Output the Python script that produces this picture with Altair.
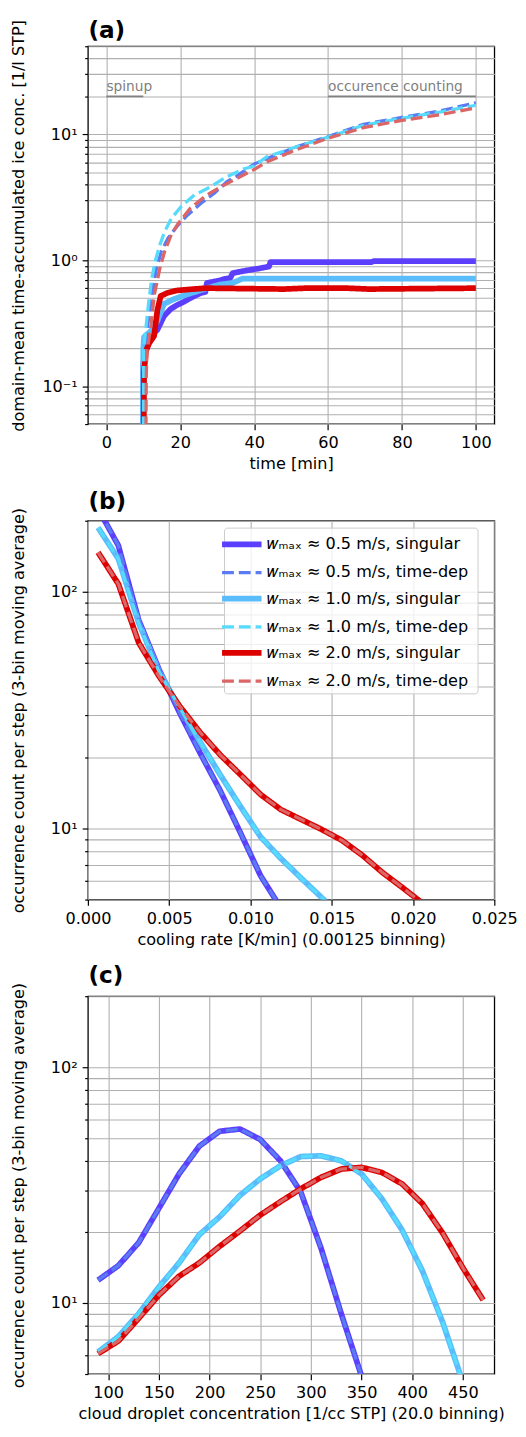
import altair as alt
import pandas as pd

FONT = "DejaVu Sans"

# ---------------- series definitions ----------------
SERIES = [
    "𝑤ₘₐₓ ≈  0.5 m/s, singular",
    "𝑤ₘₐₓ ≈  0.5 m/s, time-dep",
    "𝑤ₘₐₓ ≈  1.0 m/s, singular",
    "𝑤ₘₐₓ ≈  1.0 m/s, time-dep",
    "𝑤ₘₐₓ ≈  2.0 m/s, singular",
    "𝑤ₘₐₓ ≈  2.0 m/s, time-dep",
]
COLORS = ["#5b3ffd", "#5a7bf2", "#5bbcfc", "#56dbfd", "#dc0000", "#dc6565"]
DASHES = [[1, 0], [12, 5], [1, 0], [12, 5], [1, 0], [12, 5]]
WIDTHS = [5.8, 3.3, 5.8, 3.3, 5.8, 3.3]
SOLID = [SERIES[0], SERIES[2], SERIES[4]]
DASHED = [SERIES[1], SERIES[3], SERIES[5]]

# ---------------- panel (a): time series ----------------
a_t_05s = [9.8, 10.0, 10.5, 12.0, 13.8, 15.6, 17.4, 19.1, 20.5, 22.7, 25.3, 26.8, 27.2,
           30.6, 32.0, 33.5, 34.2, 38.0, 41.3, 43.1, 44.0, 44.4, 71.6, 72.5, 100.0]
a_v_05s = [0.01, 0.15, 0.22, 0.25, 0.28, 0.36, 0.41, 0.44, 0.46, 0.50, 0.545, 0.56, 0.66,
           0.69, 0.71, 0.72, 0.79, 0.83, 0.86, 0.88, 0.89, 0.965, 0.965, 0.985, 0.985]

a_t_10s = [9.8, 10.0, 10.2, 12.1, 13.8, 15.6, 18.2, 21.8, 26.2, 30.6, 34.2, 36.9, 100.0]
a_v_10s = [0.01, 0.2, 0.245, 0.275, 0.33, 0.45, 0.49, 0.535, 0.586, 0.64, 0.66, 0.715, 0.715]

a_t_20s = [10.0, 10.2, 10.7, 11.6, 12.9, 13.8, 14.7, 16.5, 19.1, 23.6, 27.1, 48.0, 54.0, 65.0, 71.0, 100.0]
a_v_20s = [0.01, 0.13, 0.19, 0.22, 0.25, 0.40, 0.52, 0.55, 0.575, 0.59, 0.60, 0.59, 0.60, 0.60, 0.59, 0.60]

a_t_05d = [10.0, 10.3, 12.0, 12.8, 13.6, 14.9, 16.7, 19.4, 22.0, 25.6, 29.2, 32.6, 35.0, 40.0,
           45.0, 51.7, 60.0, 69.6, 80.0, 90.2, 100.0]
a_v_05d = [0.01, 0.2, 0.45, 0.64, 0.87, 1.18, 1.5, 1.9, 2.29, 2.83, 3.4, 4.2, 4.6, 5.8,
           6.7, 8.0, 9.6, 12.0, 13.6, 15.3, 17.8]

a_t_10d = [9.9, 10.1, 11.4, 12.3, 13.2, 14.5, 15.8, 17.6, 20.2, 23.8, 27.3, 32.6, 37.1, 40.0,
           43.3, 51.7, 60.0, 69.6, 80.0, 90.2, 100.0]
a_v_10d = [0.01, 0.2, 0.45, 0.72, 0.98, 1.33, 1.69, 2.15, 2.66, 3.29, 3.71, 4.6, 5.3, 5.6,
           6.6, 8.0, 9.5, 11.8, 13.4, 15.0, 17.0]

a_t_20d = [10.6, 10.8, 11.0, 12.1, 13.0, 14.5, 15.8, 17.6, 19.4, 22.7, 27.1, 32.6, 39.7, 43.3,
           51.7, 60.0, 69.6, 80.0, 90.2, 100.0]
a_v_20d = [0.01, 0.12, 0.19, 0.31, 0.535, 0.87, 1.18, 1.6, 1.95, 2.58, 3.29, 4.06, 5.2, 6.0,
           7.6, 9.3, 11.3, 12.9, 14.3, 16.2]

a_notes = ["spinup", "occurence counting"]
a_note_start = [0, 60]
a_note_end = [10, 100]
a_note_level = [20, 20]

# ---------------- panel (b): cooling rate ----------------
b_x = [0.000625, 0.001875, 0.003125, 0.004375, 0.005625, 0.006875, 0.008125, 0.009375,
       0.010625, 0.011875, 0.013125, 0.014375, 0.015625, 0.016875, 0.018125, 0.019375, 0.020625]
b_05 = [225, 157, 76, 47, 31, 21, 14.5, 9.6, 6.3, 4.6]
b_10 = [187, 138, 74, 46, 32.6, 23.4, 16.9, 12.4, 9.2, 7.45, 6.15, 5.1, 4.2]
b_20 = [147, 108, 61, 44, 33, 25.6, 20.5, 16.9, 13.9, 12.0, 10.9, 9.9, 8.9, 7.7, 6.5, 5.6, 4.8]

# ---------------- panel (c): droplet concentration ----------------
c_x = [90, 110, 130, 150, 170, 190, 210, 230, 250, 270, 290, 310, 330, 350, 370, 390, 410,
       430, 450, 470]
c_05 = [12.5, 14.4, 18.0, 25.2, 35.3, 46.3, 53.5, 54.7, 49.4, 40.1, 29.6, 17.1, 9.0, 4.9]
c_10 = [6.2, 7.2, 9.0, 11.7, 14.8, 19.5, 23.2, 28.6, 33.6, 38.2, 41.8, 42.1, 40.1, 35.3,
        27.7, 20.4, 13.7, 8.3, 4.6]
c_20 = [6.1, 6.9, 8.6, 10.8, 13.0, 14.8, 17.4, 20.2, 23.6, 26.9, 30.5, 34.1, 37.0, 37.6,
        35.8, 32.0, 26.4, 19.8, 14.1, 10.3]

# ---------------- axis tick lists ----------------
A_YTICKS = [0.05, 0.06, 0.07, 0.08, 0.09, 0.1, 0.2, 0.3, 0.4, 0.5, 0.6, 0.7, 0.8, 0.9,
            1, 2, 3, 4, 5, 6, 7, 8, 9, 10, 20, 30, 40, 50]
BC_YTICKS = [5, 6, 7, 8, 9, 10, 20, 30, 40, 50, 60, 70, 80, 90, 100, 200]


def frame(parts):
    rows = []
    for name, xs, ys in parts:
        for xv, yv in zip(xs, ys):
            rows.append({"x": xv, "y": yv, "series": name})
    return pd.DataFrame(rows)


df_a = frame([
    (SERIES[0], a_t_05s, a_v_05s), (SERIES[2], a_t_10s, a_v_10s), (SERIES[4], a_t_20s, a_v_20s),
    (SERIES[1], a_t_05d, a_v_05d), (SERIES[3], a_t_10d, a_v_10d), (SERIES[5], a_t_20d, a_v_20d),
])
df_b = frame([
    (SERIES[0], b_x, b_05), (SERIES[2], b_x, b_10), (SERIES[4], b_x, b_20),
    (SERIES[1], b_x, b_05), (SERIES[3], b_x, b_10), (SERIES[5], b_x, b_20),
])
df_c = frame([
    (SERIES[0], c_x, c_05), (SERIES[2], c_x, c_10), (SERIES[4], c_x, c_20),
    (SERIES[1], c_x, c_05), (SERIES[3], c_x, c_10), (SERIES[5], c_x, c_20),
])
df_notes = pd.DataFrame({"x": a_note_start, "x2": a_note_end, "y": a_note_level, "label": a_notes})

LABEL_EXPR = ("datum.value == 0.1 ? '10⁻¹' : datum.value == 1 ? '10⁰' : "
              "datum.value == 10 ? '10¹' : datum.value == 100 ? '10²' : ''")
MAJOR_TEST = "datum.value == 0.1 || datum.value == 1 || datum.value == 10 || datum.value == 100"

FS = 16.3


def y_axis(title, ticks, top_anchor=None):
    kw = dict(
        title=title, values=ticks, labelExpr=LABEL_EXPR, labelOverlap=False,
        tickSize={"condition": {"test": MAJOR_TEST, "value": 5.8}, "value": 3.3},
        labelPadding=5, titleX=-62, grid=True, labelFlush=False,
    )
    if top_anchor is not None:
        kw.update(titleY=top_anchor, titleAlign="right")
    return alt.Axis(**kw)


def x_axis(title, ticks, fmt=None):
    kw = dict(title=title, values=ticks, tickSize=5.8, labelPadding=5, titlePadding=5,
              grid=True, labelFlush=False, labelOverlap=False)
    if fmt:
        kw["format"] = fmt
    return alt.Axis(**kw)


def label_axis(text, pad):
    # top axis carrying only the panel letter as its title
    return alt.Axis(orient="top", title=text, labels=False, ticks=False, grid=False, domain=False,
                    titleFont=FONT, titleFontSize=23.5, titleFontWeight="bold", titleColor="black",
                    titleAnchor="start", titleAlign="left", titleBaseline="alphabetic",
                    titlePadding=pad)


LEGEND = alt.Legend(
    title=None, orient="none", legendX=138, legendY=7, fillColor="rgba(255,255,255,0.8)",
    strokeColor="#cccccc", cornerRadius=3, padding=4, symbolType="M-2,0H2", symbolSize=400,
    symbolOffset=1, labelFont=FONT, labelFontSize=FS, labelColor="black", labelOffset=13,
    rowPadding=4.5, labelLimit=400,
)


def style(legend):
    return dict(
        color=alt.Color("series:N", scale=alt.Scale(domain=SERIES, range=COLORS), legend=legend),
        strokeDash=alt.StrokeDash("series:N", scale=alt.Scale(domain=SERIES, range=DASHES), legend=legend),
        strokeWidth=alt.StrokeWidth("series:N", scale=alt.Scale(type="ordinal", domain=SERIES, range=WIDTHS),
                                    legend=legend),
    )


def line_layers(df, scale, xaxis, letter, pad, y, legend):
    enc = style(legend)
    solid = alt.Chart(df[df["series"].isin(SOLID)]).mark_line(
        clip=True, strokeCap="butt", strokeJoin="round").encode(
        x=alt.X("x:Q", scale=scale, axis=xaxis), y=y, **enc)
    dashed = alt.Chart(df[df["series"].isin(DASHED)]).mark_line(
        clip=True, strokeCap="butt", strokeJoin="round").encode(
        x=alt.X("x:Q", scale=scale, axis=label_axis(letter, pad)), y=y, **enc)
    return [solid, dashed]


# ---- panel a ----
sa = alt.Scale(domain=[-5, 105], nice=False, zero=False)
ya = alt.Y("y:Q", scale=alt.Scale(type="log", domain=[0.05, 50], nice=False),
           axis=y_axis("domain-mean time-accumulated ice conc. [1/l STP]", A_YTICKS, -27))
notes_rule = alt.Chart(df_notes).mark_rule(color="#808080", strokeWidth=2).encode(
    x=alt.X("x:Q", axis=None), x2="x2:Q", y=alt.Y("y:Q"))
notes_text = alt.Chart(df_notes).mark_text(
    align="left", baseline="alphabetic", dy=-5, color="#808080", fontSize=13.9, font=FONT
).encode(x=alt.X("x:Q", axis=None), y=alt.Y("y:Q"), text="label:N")
panel_a = alt.layer(
    *line_layers(df_a, sa, x_axis("time [min]", [0, 20, 40, 60, 80, 100]), "(a)", 9, ya, None),
    notes_rule, notes_text
).resolve_axis(x="independent").properties(width=412, height=383)

# ---- panel b ----
sb = alt.Scale(domain=[0, 0.025], nice=False, zero=False)
yb = alt.Y("y:Q", scale=alt.Scale(type="log", domain=[5, 200], nice=False),
           axis=y_axis("occurrence count per step (3-bin moving average)", BC_YTICKS))
panel_b = alt.layer(
    *line_layers(df_b, sb, x_axis("cooling rate [K/min] (0.00125 binning)",
                                  [0, 0.005, 0.01, 0.015, 0.02, 0.025], ".3f"), "(b)", 12, yb, LEGEND)
).resolve_axis(x="independent").properties(width=412, height=384)

# ---- panel c ----
sc = alt.Scale(domain=[80, 481], nice=False, zero=False)
yc = alt.Y("y:Q", scale=alt.Scale(type="log", domain=[5, 200], nice=False),
           axis=y_axis("occurrence count per step (3-bin moving average)", BC_YTICKS))
panel_c = alt.layer(
    *line_layers(df_c, sc, x_axis("cloud droplet concentration [1/cc STP] (20.0 binning)",
                                  [100, 150, 200, 250, 300, 350, 400, 450]), "(c)", 14, yc, None)
).resolve_axis(x="independent").properties(width=412, height=383)

chart = alt.vconcat(panel_a, panel_b, panel_c, spacing=98, bounds="flush").resolve_scale(
    color="independent", strokeDash="independent", strokeWidth="independent"
).properties(
    padding={"left": 2, "top": 0, "right": 0, "bottom": 0}
).configure_view(
    stroke="black", strokeWidth=1.3
).configure_axis(
    labelFont=FONT, titleFont=FONT, labelFontSize=FS, titleFontSize=FS,
    labelColor="black", titleColor="black", titleFontWeight="normal",
    gridColor="#b0b0b0", gridWidth=1.1, tickColor="black", tickWidth=1.2, domain=False,
)

chart.save("out.html", embed_options={"renderer": "svg", "actions": False})
